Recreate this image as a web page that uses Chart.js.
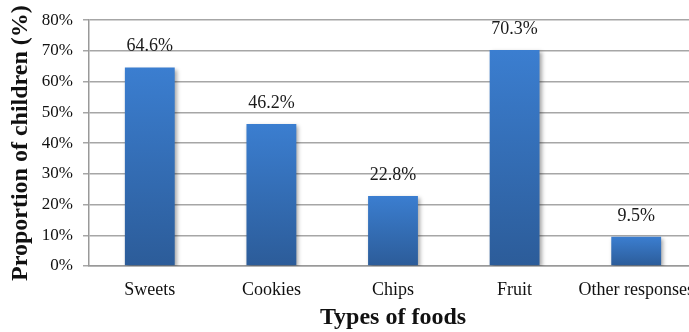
<!DOCTYPE html>
<html>
<head>
<meta charset="utf-8">
<script src="https://cdn.jsdelivr.net/npm/chart.js@4.4.0/dist/chart.umd.min.js"></script>
<style>
  html, body { margin: 0; padding: 0; background: #fff; overflow: hidden; }
  #wrap { width: 697px; height: 332px; position: relative; }
</style>
</head>
<body>
<div id="wrap"><canvas id="foodChart"></canvas></div>
<script>
const categorias = ['Sweets', 'Cookies', 'Chips', 'Fruit', 'Other responses'];
const proporciones = [64.6, 46.2, 22.8, 70.3, 9.5];
const ticksY = [0, 10, 20, 30, 40, 50, 60, 70, 80];

const fuente = "'Liberation Serif', 'Times New Roman', serif";

// degradado por barra, de claro arriba a oscuro abajo
function colorBarra(context) {
    const chart = context.chart;
    const y = chart.scales.y;
    if (!chart.chartArea || !y || context.parsed === undefined) return '#3471b8';
    const top = y.getPixelForValue(context.parsed.y);
    const bottom = y.getPixelForValue(0);
    if (!isFinite(top) || !isFinite(bottom) || top === bottom) return '#3471b8';
    const g = chart.ctx.createLinearGradient(0, top, 0, bottom);
    g.addColorStop(0, '#3b7ed0');
    g.addColorStop(1, '#2c5c99');
    return g;
}

const sombraBarras = {
    id: 'sombraBarras',
    beforeDatasetDraw(chart) {
        const ctx = chart.ctx;
        ctx.save();
        ctx.shadowColor = 'rgba(0,0,0,0.35)';
        ctx.shadowBlur = 4;
        ctx.shadowOffsetX = 2;
        ctx.shadowOffsetY = 2;
    },
    afterDatasetDraw(chart) {
        chart.ctx.restore();
    }
};

const etiquetas = {
    id: 'etiquetas',
    afterDatasetsDraw(chart) {
        const ctx = chart.ctx;
        const meta = chart.getDatasetMeta(0);
        ctx.save();
        ctx.font = '18px ' + fuente;
        ctx.fillStyle = '#1a1a1a';
        ctx.textAlign = 'center';
        ctx.textBaseline = 'bottom';
        meta.data.forEach((bar, i) => {
            ctx.fillText(proporciones[i].toFixed(1) + '%', bar.x, bar.y - 12);
        });
        ctx.restore();
    }
};

const config = {
    type: 'bar',
    data: {
        labels: categorias,
        datasets: [{
            data: proporciones,
            backgroundColor: colorBarra,
            borderWidth: 0,
            barPercentage: 0.82,
            categoryPercentage: 0.5
        }]
    },
    options: {
        responsive: true,
        maintainAspectRatio: false,
        animation: false,
        layout: { padding: { top: 18, left: 0, right: 0, bottom: 0 } },
        plugins: {
            legend: { display: false },
            tooltip: { enabled: false }
        },
        scales: {
            x: {
                grid: { display: false, drawTicks: false },
                border: { color: '#999', width: 1.5 },
                ticks: {
                    color: '#111',
                    font: { family: fuente, size: 18 },
                    padding: 13,
                    maxRotation: 0,
                    autoSkip: false
                },
                title: {
                    display: true,
                    text: 'Types of foods',
                    color: '#111',
                    font: { family: fuente, size: 24, weight: 'bold' },
                    padding: { top: 6, bottom: 0 }
                },
                afterFit(scale) {
                    scale.height = 66;
                    scale.paddingLeft = 0;
                    scale.paddingRight = 0;
                }
            },
            y: {
                min: 0,
                max: 80,
                afterBuildTicks(scale) {
                    scale.ticks = ticksY.map(v => ({ value: v }));
                },
                grid: { color: '#a6a6a6', lineWidth: 1.5, tickLength: 6 },
                border: { color: '#999', width: 1.5 },
                ticks: {
                    color: '#111',
                    font: { family: fuente, size: 17 },
                    padding: 10,
                    callback: v => v + '%'
                },
                title: {
                    display: true,
                    text: 'Proportion of children (%)',
                    color: '#111',
                    font: { family: fuente, size: 24, weight: 'bold' },
                    padding: { top: 6, bottom: 0 }
                },
                afterFit(scale) { scale.width = 89; }
            }
        }
    },
    plugins: [sombraBarras, etiquetas]
};

window.onload = function() {
    const ctx = document.getElementById('foodChart').getContext('2d');
    new Chart(ctx, config);
};
</script>
</body>
</html>
